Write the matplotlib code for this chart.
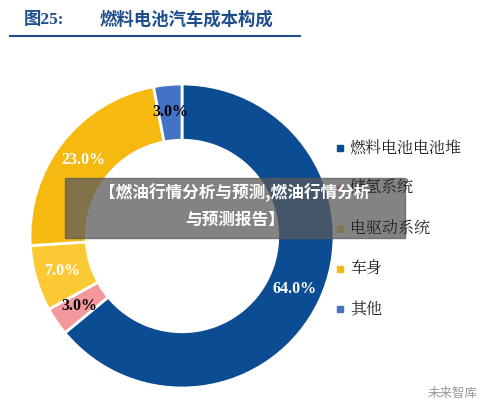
import matplotlib
matplotlib.use("Agg")
import matplotlib.pyplot as plt
from matplotlib.patches import Rectangle
import numpy as np

plt.rcParams['font.family'] = ['Noto Sans CJK SC', 'DejaVu Sans']

categories = ["燃料电池电池堆", "储氢系统", "电驱动系统", "车身", "其他"]
values = [64.0, 3.0, 7.0, 23.0, 3.0]
labels = ["64.0%", "3.0%", "7.0%", "23.0%", "3.0%"]
colors = ["#0B4C93", "#F4999B", "#FBC934", "#F5B90F", "#4472C4"]
label_colors = ["white", "black", "white", "white", "black"]

fig = plt.figure(figsize=(5, 4.15), dpi=100)
W, H = 500, 415
fig.text(24/W, 1-20/H, "图25:", fontsize=12.5, fontweight='bold', color="#1F4E8C", family=['Liberation Serif', 'Noto Sans CJK SC'], va='center')
fig.text(100/W, 1-20/H, "燃料电池汽车成本构成", fontsize=12.5, fontweight='bold', color="#1F4E8C", va='center')
fig.add_artist(plt.Line2D([10/W, 300/W], [1-36/H, 1-36/H], color="#1F4E8C", lw=1.5))

cx, cy, r = 182, 236, 152
ax = fig.add_axes([(cx-r)/W, (H-cy-r)/H, 2*r/W, 2*r/H])
ax.pie(values, colors=colors, startangle=90, counterclock=False,
       radius=1, wedgeprops=dict(width=0.37, edgecolor='white', linewidth=2))
ang = 90.0
for v, lab, lc in zip(values, labels, label_colors):
    mid = np.deg2rad(ang - v*3.6/2)
    ang -= v*3.6
    rr = 0.82
    ax.text(rr*np.cos(mid), rr*np.sin(mid), lab, ha='center', va='center', fontsize=11.5,
            fontweight='bold', color=lc, family='Liberation Serif')
ax.set_xlim(-1, 1)
ax.set_ylim(-1, 1)
ax.set_aspect('equal')
ax.axis('off')

ys = [148, 188, 229, 269, 309]
for cat, c, y in zip(categories, colors, ys):
    fig.patches.append(Rectangle((337/W, 1-(y+3)/H), 6/W, 6/H, color=c, transform=fig.transFigure, figure=fig))
    fig.text(350/W, 1-y/H, cat, fontsize=11.5, va='center', color='#222222', family=['Noto Serif CJK SC', 'Noto Sans CJK SC'])

fig.patches.append(Rectangle((65/W, 1-238/H), 340/W, 60/H, color='#5a5a5a', alpha=0.75, transform=fig.transFigure, figure=fig))
fig.text(235/W, 1-193/H, "【燃油行情分析与预测,燃油行情分析", fontsize=12, fontweight='bold', color='white', ha='center', va='center')
fig.text(235/W, 1-220/H, "与预测报告】", fontsize=12, fontweight='bold', color='white', ha='center', va='center')
fig.text(428/W, 1-393/H, "未来智库", fontsize=9, color='#999999', ha='left', va='center')

fig.savefig("out.png", dpi=100, facecolor='white')
